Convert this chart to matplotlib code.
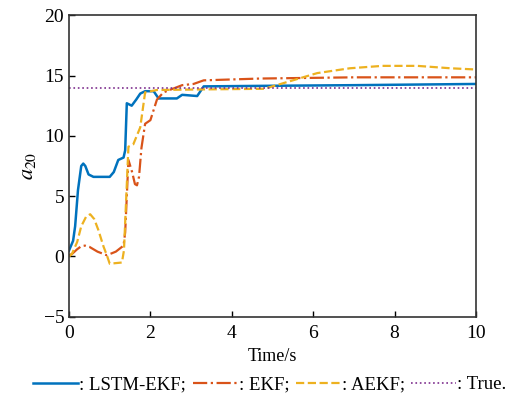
import matplotlib
matplotlib.use('Agg')
import matplotlib.pyplot as plt

plt.rcParams['font.family'] = ['Liberation Serif', 'DejaVu Serif']
plt.rcParams['mathtext.fontset'] = 'stix'

# values
t_lstm = [0.0, 0.05, 0.1, 0.15, 0.22, 0.3, 0.35, 0.4, 0.48, 0.6, 0.8, 1.0, 1.1, 1.21, 1.34, 1.38,
          1.42, 1.54, 1.65, 1.75, 1.87, 2.08, 2.2, 2.65, 2.78, 3.15, 3.31, 5.0, 7.0, 10.0]
a_lstm = [0.5, 0.9, 1.3, 2.5, 5.5, 7.5, 7.7, 7.5, 6.8, 6.6, 6.6, 6.6, 7.0, 8.0, 8.2, 8.8,
          12.7, 12.5, 13.0, 13.5, 13.7, 13.7, 13.1, 13.1, 13.4, 13.3, 14.1, 14.15, 14.2, 14.3]

t_ekf = [0.0, 0.07, 0.2, 0.3, 0.39, 0.5, 0.7, 0.93, 1.15, 1.34, 1.38, 1.46, 1.55, 1.62, 1.67,
         1.72, 1.78, 1.87, 2.0, 2.16, 2.32, 2.78, 3.06, 3.31, 4.7, 7.0, 10.0]
a_ekf = [0.1, 0.2, 0.6, 0.85, 0.9, 0.8, 0.4, 0.1, 0.4, 0.9, 2.0, 8.0, 7.0, 6.0, 5.9,
         6.6, 9.0, 11.0, 11.3, 13.0, 13.6, 14.2, 14.3, 14.6, 14.75, 14.85, 14.85]

t_aekf = [0.0, 0.07, 0.2, 0.3, 0.42, 0.52, 0.62, 0.72, 0.85, 0.93, 1.0, 1.3, 1.35, 1.46,
          1.58, 1.75, 1.87, 2.16, 3.3, 4.8, 5.1, 5.5, 6.1, 6.9, 7.7, 8.56, 9.38, 10.0]
a_aekf = [0.0, 0.2, 1.2, 2.5, 3.3, 3.5, 3.1, 2.2, 0.8, 0.1, -0.6, -0.5, 0.5, 9.1,
          9.3, 10.7, 13.6, 13.8, 13.85, 13.9, 14.2, 14.6, 15.2, 15.6, 15.8, 15.8, 15.6, 15.5]

t_true = [0.0, 10.0]
a_true = [14.0, 14.0]

fig = plt.figure(figsize=(5.19, 4.0), dpi=100)
ax = fig.add_axes([0.133, 0.208, 0.784, 0.754])

ax.plot(t_lstm, a_lstm, color='#0072BD', lw=1.8, label=': LSTM-EKF;')
ax.plot(t_ekf, a_ekf, color='#D95319', lw=1.6, ls='-.', label=': EKF;')
ax.plot(t_aekf, a_aekf, color='#EDB120', lw=1.6, ls='--', label=': AEKF;')
ax.plot(t_true, a_true, color='#7E2F8E', lw=1.2, ls=':', label=': True.')

ax.set_xlim(0, 10)
ax.set_ylim(-5, 20)
ax.set_xticks([0, 2, 4, 6, 8, 10])
ax.set_yticks([-5, 0, 5, 10, 15, 20])
ax.tick_params(direction='in', labelsize=14, length=4, width=1)
ax.tick_params(axis='x', pad=6)
for s in ax.spines.values():
    s.set_color('#333333')
    s.set_linewidth(1.2)

ax.set_xlabel('Time/s', fontsize=13, labelpad=4)
ax.set_ylabel('$a_{20}$', fontsize=16, labelpad=4)

fig.legend(loc='lower center', bbox_to_anchor=(0.52, -0.025), ncol=4, frameon=False,
           fontsize=13.5, handlelength=2.4, handletextpad=0.05, columnspacing=0.35)

fig.savefig('out.png', dpi=100)
